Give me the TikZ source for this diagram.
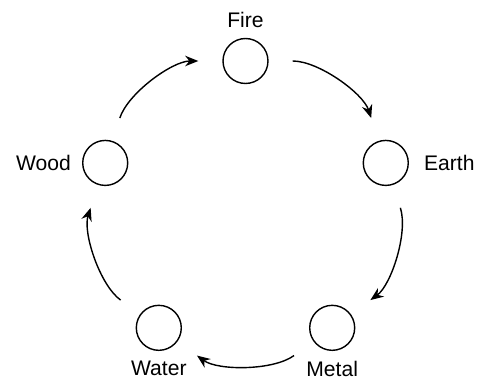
\documentclass[tikz,border=0pt]{standalone}
\usepackage{fontspec}
\setmainfont{Liberation Sans}
\usetikzlibrary{arrows.meta}

\begin{document}
\begin{tikzpicture}[x=0.02cm,y=0.02cm,font=\fontsize{12}{14}\selectfont,
  element/.style={circle,draw,line width=0.8pt,minimum size=0.9cm,inner sep=0pt},
  cycle arrow/.style={-{Stealth[length=7.5pt,width=6pt]},line width=0.8pt,
    shorten <=0.48cm,shorten >=0.48cm}]
  \useasboundingbox (-245.5,-170.5) rectangle (231.5,208.5);
  % the five elements on a pentagon
  \node[element,label={[label distance=0.07cm]above:Fire}]  (fire)  at (90:147.5) {};
  \node[element,label={[label distance=0.18cm]right:Earth}] (earth) at (18:147.5) {};
  \node[element,label={[label distance=0.08cm]below:Metal}] (metal) at (-54:147.5) {};
  \node[element,label={[label distance=0.08cm]below:Water}] (water) at (-126:147.5) {};
  \node[element,label={[label distance=0.10cm]left:Wood}]   (wood)  at (162:147.5) {};
  % generating cycle
  \foreach \a/\b in {fire/earth,earth/metal,metal/water,water/wood,wood/fire}
    \draw[cycle arrow] (\a) to[bend left=36,looseness=0.94] (\b);
\end{tikzpicture}
\end{document}
